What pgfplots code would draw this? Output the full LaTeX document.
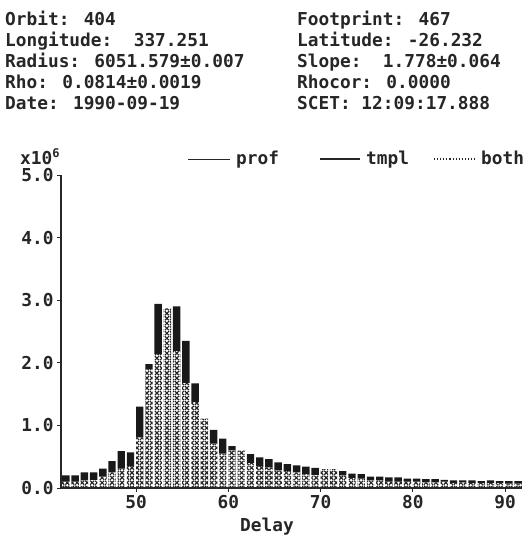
\documentclass[border=0pt]{standalone}
\usepackage{fontspec}
\setmainfont{DejaVu Sans Mono}[UprightFont=*-Bold]
\usepackage{pgfplots}
\usepackage{pgfplotstable}
\pgfplotsset{compat=1.18}
\usetikzlibrary{patterns}
\pgfdeclarepatternformonly{bigx}{\pgfqpoint{-0.5pt}{-0.5pt}}{\pgfqpoint{5.5pt}{5.5pt}}{\pgfqpoint{5pt}{5pt}}{%
  \pgfsetlinewidth{1.15pt}%
  \pgfpathmoveto{\pgfqpoint{0.5pt}{0.5pt}}\pgfpathlineto{\pgfqpoint{4.5pt}{4.5pt}}%
  \pgfpathmoveto{\pgfqpoint{0.5pt}{4.5pt}}\pgfpathlineto{\pgfqpoint{4.5pt}{0.5pt}}%
  \pgfusepath{stroke}}
\newcommand{\hdr}{\fontsize{17.8bp}{20bp}\selectfont}
% x = delay bin centre, h = hatched (both) height, b = black (prof excess) height, units 1e6
\pgfplotstableread{
x h b
42.4 0.10 0.10
43.4 0.10 0.10
44.4 0.12 0.13
45.4 0.13 0.12
46.4 0.18 0.13
47.4 0.25 0.18
48.4 0.31 0.28
49.4 0.35 0.22
50.4 0.81 0.49
51.4 1.90 0.08
52.4 2.14 0.80
53.4 2.87 0.00
54.4 2.19 0.71
55.4 1.68 0.67
56.4 1.37 0.30
57.4 1.11 0.00
58.4 0.71 0.22
59.4 0.55 0.24
60.4 0.60 0.07
61.4 0.60 0.00
62.4 0.40 0.14
63.4 0.35 0.14
64.4 0.33 0.13
65.4 0.28 0.13
66.4 0.27 0.11
67.4 0.25 0.11
68.4 0.22 0.12
69.4 0.21 0.11
70.4 0.30 0.00
71.4 0.30 0.00
72.4 0.20 0.07
73.4 0.16 0.07
74.4 0.15 0.07
75.4 0.12 0.06
76.4 0.12 0.06
77.4 0.10 0.07
78.4 0.10 0.07
79.4 0.10 0.05
80.4 0.10 0.05
81.4 0.09 0.05
82.4 0.09 0.05
83.4 0.10 0.03
84.4 0.08 0.04
85.4 0.09 0.03
86.4 0.08 0.04
87.4 0.08 0.03
88.4 0.08 0.04
89.4 0.08 0.03
90.4 0.07 0.04
91.4 0.07 0.04
}\bars
\begin{document}
\begin{tikzpicture}
\useasboundingbox (0,0) rectangle (528bp,-540bp);
\begin{axis}[
  at={(61bp,-488bp)}, anchor=south west,
  scale only axis, width=461bp, height=313bp,
  xmin=41.87, xmax=91.82, ymin=0, ymax=5,
  axis lines=left,
  axis line style={-, line width=1.1pt, black!85},
  ybar stacked, bar width=0.8,
  xtick={50,60,70,80,90},
  ytick={0,1,2,3,4,5},
  scaled y ticks=false,
  yticklabel style={/pgf/number format/.cd, fixed, fixed zerofill, precision=1},
  /pgf/number format/assume math mode=true,
  tick align=outside,
  major tick length=4bp,
  tick style={black!85, line width=0.9pt},
  tick label style={font=\hdr, text=black!85},
]
\addplot[draw=none, pattern=bigx, pattern color=black!85] table[x=x,y=h]{\bars};
\addplot[draw=none, fill=black!90] table[x=x,y=b]{\bars};
\end{axis}
\begin{scope}[every node/.style={anchor=base west, font=\hdr, text=black!85, inner sep=0pt}]
\node at (5bp,-25bp) {Orbit: 404};
\node at (5bp,-46bp) {Longitude:~~337.251};
\node at (5bp,-67bp) {Radius: 6051.579±0.007};
\node at (5bp,-88bp) {Rho: 0.0814±0.0019};
\node at (5bp,-109bp) {Date: 1990-09-19};
\node at (297bp,-25bp) {Footprint: 467};
\node at (297bp,-46bp) {Latitude: -26.232};
\node at (297bp,-67bp) {Slope:~~1.778±0.064};
\node at (297bp,-88bp) {Rhocor: 0.0000};
\node at (297bp,-109bp) {SCET: 12:09:17.888};
\node at (20bp,-164bp) {x10\raisebox{7bp}{\fontsize{12bp}{12bp}\selectfont 6}};
\node at (236bp,-164bp) {prof};
\node at (366bp,-164bp) {tmpl};
\node at (481bp,-164bp) {both};
\node[anchor=base] at (267bp,-531bp) {Delay};
\end{scope}
\draw[line width=0.8pt, black!85] (188bp,-159bp) -- (230bp,-159bp);
\draw[line width=1.4pt, black!85] (320bp,-159bp) -- (360bp,-159bp);
\draw[line width=1.1pt, black!85, dotted] (434bp,-159bp) -- (476bp,-159bp);
\end{tikzpicture}
\end{document}
